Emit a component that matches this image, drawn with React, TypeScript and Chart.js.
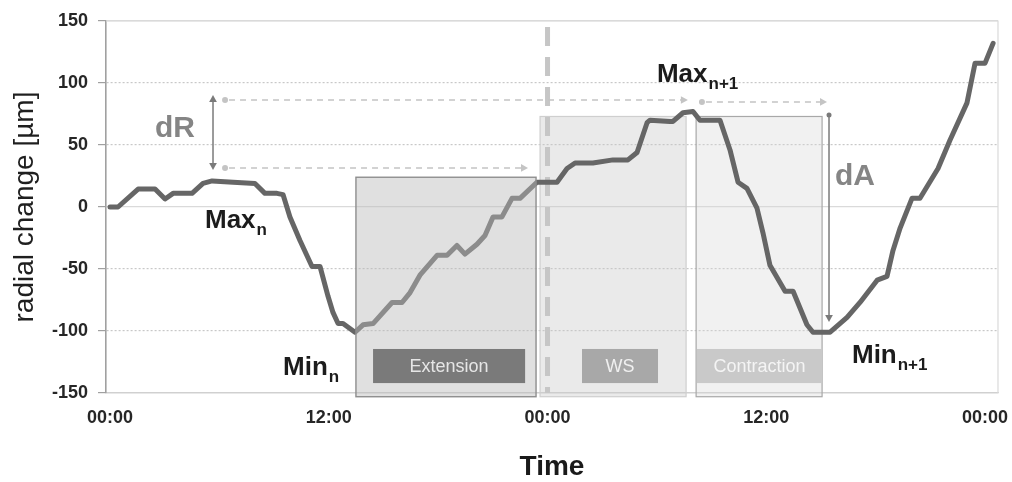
import React, { useEffect, useRef } from 'react';
import { Chart, registerables } from 'chart.js';

Chart.register(...registerables);

// ---- data (hours since first midnight, radial change in µm) ----
const hours = [
  0.0, 0.44, 1.54, 2.47, 3.02, 3.46, 4.5, 5.1, 5.6, 6.75, 7.95, 8.5, 9.16, 9.49, 9.87, 10.42,
  11.08, 11.52, 11.96, 12.23, 12.51, 12.78, 13.44, 13.88, 14.43, 15.47, 16.02, 16.46, 17.0,
  17.94, 18.49, 19.03, 19.47, 20.13, 20.57, 21.01, 21.5, 22.05, 22.49, 23.42, 24.52, 25.07,
  25.51, 26.49, 27.59, 28.41, 28.91, 29.46, 29.62, 30.72, 30.88, 31.43, 31.98, 32.36, 33.46,
  34.01, 34.45, 34.94, 35.49, 35.82, 36.2, 37.03, 37.47, 38.23, 38.56, 39.5, 40.43, 41.14,
  42.08, 42.62, 42.95, 43.34, 43.99, 44.43, 45.42, 46.08, 47.01, 47.45, 48.0, 48.44,
];
const radial = [
  0, 0, 14.5, 14.5, 6.5, 11, 11, 19, 21, 20, 19, 11, 11, 10, -8, -27,
  -48, -48, -72, -85, -94, -94, -101, -95, -94, -77, -77, -69, -55,
  -39, -39, -31, -38, -30, -23, -8, -8, 7, 7, 20, 20, 31,
  35.5, 35.5, 38, 38, 44, 68, 70, 69, 69, 76, 77, 70, 70,
  46, 20, 15, -1, -21, -47, -68, -68, -95, -101, -101, -89, -77,
  -59, -56, -35, -17, 7, 7, 31, 54, 84, 116, 116, 132,
];

const xTickHours = [0, 12, 24, 36, 48];
const xTickLabels = ['00:00', '12:00', '00:00', '12:00', '00:00'];
const yTickStep = 50;

// phases
const phaseNames = ['Extension', 'WS', 'Contraction'];
const phaseStart = [13.49, 23.59, 32.15];
const phaseEnd = [23.37, 31.6, 39.06];
const phaseTop = [24, 73, 73];
const phaseBottom = -153;
const phaseLabelStart = [14.43, 25.89, 32.2];
const phaseLabelEnd = [22.77, 30.06, 39.06];
const phaseLabelTop = -114.5;
const phaseLabelBottom = -142;

const midnightHour = 24;

// annotation reference values
const maxNLevel = 86.3; // dR top (Max n+1 level)
const minDRLevel = 31.5; // dR bottom
const maxN1Level = 84.7;

const FONT = '"Liberation Sans", Arial, sans-serif';

function arrowHead(ctx: CanvasRenderingContext2D, x: number, y: number, dir: 'up' | 'down' | 'right', size: number, color: string) {
  ctx.save();
  ctx.fillStyle = color;
  ctx.beginPath();
  if (dir === 'right') {
    ctx.moveTo(x, y);
    ctx.lineTo(x - size, y - size * 0.55);
    ctx.lineTo(x - size, y + size * 0.55);
  } else if (dir === 'up') {
    ctx.moveTo(x, y);
    ctx.lineTo(x - size * 0.55, y + size);
    ctx.lineTo(x + size * 0.55, y + size);
  } else {
    ctx.moveTo(x, y);
    ctx.lineTo(x - size * 0.55, y - size);
    ctx.lineTo(x + size * 0.55, y - size);
  }
  ctx.closePath();
  ctx.fill();
  ctx.restore();
}

function dashedArrow(ctx: CanvasRenderingContext2D, x1: number, x2: number, y: number) {
  const c = '#c4c4c4';
  ctx.save();
  ctx.strokeStyle = c;
  ctx.lineWidth = 1.6;
  ctx.setLineDash([6, 5]);
  ctx.beginPath();
  ctx.moveTo(x1 + 4, y);
  ctx.lineTo(x2 - 6, y);
  ctx.stroke();
  ctx.setLineDash([]);
  ctx.fillStyle = c;
  ctx.beginPath();
  ctx.arc(x1, y, 3, 0, Math.PI * 2);
  ctx.fill();
  ctx.restore();
  arrowHead(ctx, x2, y, 'right', 7, c);
}

function subText(ctx: CanvasRenderingContext2D, main: string, sub: string, x: number, y: number, size: number, subSize: number, color: string, subDy: number) {
  ctx.save();
  ctx.fillStyle = color;
  ctx.textAlign = 'left';
  ctx.textBaseline = 'alphabetic';
  ctx.font = `bold ${size}px ${FONT}`;
  ctx.fillText(main, x, y);
  const w = ctx.measureText(main).width;
  ctx.font = `bold ${subSize}px ${FONT}`;
  ctx.fillText(sub, x + w + 1, y + subDy);
  ctx.restore();
}

const annotationPlugin = {
  id: 'dendroAnnotations',
  beforeDatasetsDraw(chart: any) {
    const { ctx, scales: { x, y }, chartArea } = chart;
    // WS and Contraction boxes (behind the line)
    for (const i of [1, 2]) {
      const l = x.getPixelForValue(phaseStart[i]);
      const r = x.getPixelForValue(phaseEnd[i]);
      const t = y.getPixelForValue(phaseTop[i]);
      const b = y.getPixelForValue(phaseBottom);
      ctx.save();
      ctx.fillStyle = i === 1 ? 'rgba(200,200,200,0.38)' : 'rgba(215,215,215,0.35)';
      ctx.fillRect(l, t, r - l, b - t);
      ctx.strokeStyle = i === 1 ? '#cfcfcf' : '#a8a8a8';
      ctx.lineWidth = 1.2;
      ctx.strokeRect(l, t, r - l, b - t);
      ctx.restore();
    }
    // midnight dashed vertical
    const mx = x.getPixelForValue(midnightHour);
    ctx.save();
    ctx.strokeStyle = '#c6c6c6';
    ctx.lineWidth = 5;
    ctx.setLineDash([19, 11]);
    ctx.beginPath();
    ctx.moveTo(mx, chartArea.top + 6);
    ctx.lineTo(mx, chartArea.bottom);
    ctx.stroke();
    ctx.restore();
    // dashed horizontal arrows
    const xs = x.getPixelForValue(6.31);
    dashedArrow(ctx, xs, x.getPixelForValue(31.7), y.getPixelForValue(maxNLevel));
    dashedArrow(ctx, xs, x.getPixelForValue(22.93), y.getPixelForValue(minDRLevel));
    dashedArrow(ctx, x.getPixelForValue(32.47), x.getPixelForValue(39.33), y.getPixelForValue(maxN1Level));
  },
  afterDatasetsDraw(chart: any) {
    const { ctx, scales: { x, y }, chartArea } = chart;
    // Extension box overlay (over the line)
    {
      const l = x.getPixelForValue(phaseStart[0]);
      const r = x.getPixelForValue(phaseEnd[0]);
      const t = y.getPixelForValue(phaseTop[0]);
      const b = y.getPixelForValue(phaseBottom);
      ctx.save();
      ctx.fillStyle = 'rgba(186,186,186,0.45)';
      ctx.fillRect(l, t, r - l, b - t);
      ctx.strokeStyle = '#8e8e8e';
      ctx.lineWidth = 1.4;
      ctx.strokeRect(l, t, r - l, b - t);
      ctx.restore();
    }
    // phase label boxes
    const labelFill = ['#7a7a7a', '#a8a8a8', '#c9c9c9'];
    const labelText = ['#e6e6e6', '#f0f0f0', '#f4f4f4'];
    for (let i = 0; i < phaseNames.length; i++) {
      const l = x.getPixelForValue(phaseLabelStart[i]);
      const r = x.getPixelForValue(phaseLabelEnd[i]);
      const t = y.getPixelForValue(phaseLabelTop);
      const b = y.getPixelForValue(phaseLabelBottom);
      ctx.save();
      ctx.fillStyle = labelFill[i];
      ctx.fillRect(l, t, r - l, b - t);
      ctx.fillStyle = labelText[i];
      ctx.font = `18px ${FONT}`;
      ctx.textAlign = 'center';
      ctx.textBaseline = 'middle';
      ctx.fillText(phaseNames[i], (l + r) / 2, (t + b) / 2 + 1);
      ctx.restore();
    }
    // plot border top/right
    ctx.save();
    ctx.strokeStyle = '#dadada';
    ctx.lineWidth = 1.2;
    ctx.beginPath();
    ctx.moveTo(chartArea.left, chartArea.top);
    ctx.lineTo(chartArea.right, chartArea.top);
    ctx.lineTo(chartArea.right, chartArea.bottom);
    ctx.stroke();
    ctx.restore();
    // dR vertical double arrow
    const ac = '#7a7a7a';
    const dx = x.getPixelForValue(5.65);
    const dt = y.getPixelForValue(90.3);
    const db = y.getPixelForValue(29.8);
    ctx.save();
    ctx.strokeStyle = ac;
    ctx.lineWidth = 1.5;
    ctx.beginPath();
    ctx.moveTo(dx, dt + 4);
    ctx.lineTo(dx, db - 4);
    ctx.stroke();
    ctx.restore();
    arrowHead(ctx, dx, dt, 'up', 7, ac);
    arrowHead(ctx, dx, db, 'down', 7, ac);
    // dA vertical arrow
    const ax = x.getPixelForValue(39.44);
    const at = y.getPixelForValue(75.8);
    const ab = y.getPixelForValue(-92.7);
    ctx.save();
    ctx.strokeStyle = ac;
    ctx.lineWidth = 1.5;
    ctx.beginPath();
    ctx.moveTo(ax, at + 3);
    ctx.lineTo(ax, ab - 4);
    ctx.stroke();
    ctx.fillStyle = ac;
    ctx.beginPath();
    ctx.arc(ax, at + 2, 2.5, 0, Math.PI * 2);
    ctx.fill();
    ctx.restore();
    arrowHead(ctx, ax, ab, 'down', 7, ac);
    // dR / dA text
    ctx.save();
    ctx.fillStyle = '#858585';
    ctx.font = `bold 30px ${FONT}`;
    ctx.textAlign = 'left';
    ctx.textBaseline = 'alphabetic';
    ctx.fillText('dR', x.getPixelForValue(2.47), y.getPixelForValue(56.5));
    ctx.fillText('dA', x.getPixelForValue(39.77), y.getPixelForValue(17.7));
    ctx.restore();
    // Max/Min labels
    const tc = '#1c1c1c';
    subText(ctx, 'Max', 'n', x.getPixelForValue(5.21), y.getPixelForValue(-17), 26, 17, tc, 7);
    subText(ctx, 'Min', 'n', x.getPixelForValue(9.49), y.getPixelForValue(-135.5), 26, 17, tc, 7);
    subText(ctx, 'Max', 'n+1', x.getPixelForValue(30.0), y.getPixelForValue(100.8), 26, 17, tc, 7);
    subText(ctx, 'Min', 'n+1', x.getPixelForValue(40.7), y.getPixelForValue(-125.8), 26, 17, tc, 7);
  },
};

export default function App() {
  const ref = useRef<HTMLCanvasElement | null>(null);

  useEffect(() => {
    if (!ref.current) return;
    const chart = new Chart(ref.current, {
      type: 'line',
      data: {
        datasets: [
          {
            data: hours.map((h, i) => ({ x: h, y: radial[i] })),
            borderColor: '#666666',
            borderWidth: 5,
            pointRadius: 0,
            tension: 0,
            borderJoinStyle: 'round',
            borderCapStyle: 'round',
            fill: false,
          },
        ],
      },
      options: {
        responsive: false,
        animation: false,
        events: [],
        layout: { padding: { left: 0, top: 21, right: 14, bottom: 0 } },
        plugins: { legend: { display: false }, tooltip: { enabled: false } },
        scales: {
          x: {
            type: 'linear',
            min: -0.22,
            max: 48.71,
            afterBuildTicks: (s: any) => {
              s.ticks = xTickHours.map((v) => ({ value: v }));
            },
            afterFit: (s: any) => {
              s.height = 89;
              s.paddingLeft = 0;
              s.paddingRight = 0;
            },
            ticks: {
              autoSkip: false,
              maxRotation: 0,
              padding: 6,
              color: '#262626',
              font: { family: FONT, size: 18, weight: 'bold' },
              callback: (_v: any, i: number) => xTickLabels[i],
            },
            grid: { display: false },
            border: { display: true, color: '#d0d0d0', width: 1.2 },
            title: {
              display: true,
              text: 'Time',
              color: '#1a1a1a',
              font: { family: FONT, size: 28, weight: 'bold', lineHeight: 1 },
              padding: { top: 0, bottom: 1 },
            },
          },
          y: {
            min: -150,
            max: 150,
            afterFit: (s: any) => {
              s.width = 106;
              s.paddingTop = 0;
              s.paddingBottom = 0;
            },
            ticks: {
              stepSize: yTickStep,
              padding: 10,
              color: '#262626',
              font: { family: FONT, size: 18, weight: 'bold' },
            },
            grid: {
              color: (c: any) => (c.tick && (c.tick.value === 0 || c.tick.value === 150) ? '#dadada' : '#c8c8c8'),
              lineWidth: 1.2,
              tickLength: 8,
              tickColor: '#a0a0a0',
              tickBorderDash: [],
            },
            border: {
              display: true,
              color: '#a0a0a0',
              width: 1.6,
              dash: (c: any) => (c.tick && c.tick.value !== 0 && Math.abs(c.tick.value) !== 150 ? [2, 2] : []),
            },
            title: {
              display: true,
              text: 'radial change [µm]',
              color: '#1f1f1f',
              font: { family: FONT, size: 28, weight: 'normal' },
              padding: { top: 8, bottom: 0 },
            },
          },
        },
      },
      plugins: [annotationPlugin],
    } as any);
    return () => chart.destroy();
  }, []);

  return (
    <div style={{ position: 'fixed', left: 0, top: 0, width: 1012, height: 482, background: '#fff' }}>
      <canvas ref={ref} width={1012} height={482} style={{ display: 'block', width: 1012, height: 482 }} />
    </div>
  );
}
